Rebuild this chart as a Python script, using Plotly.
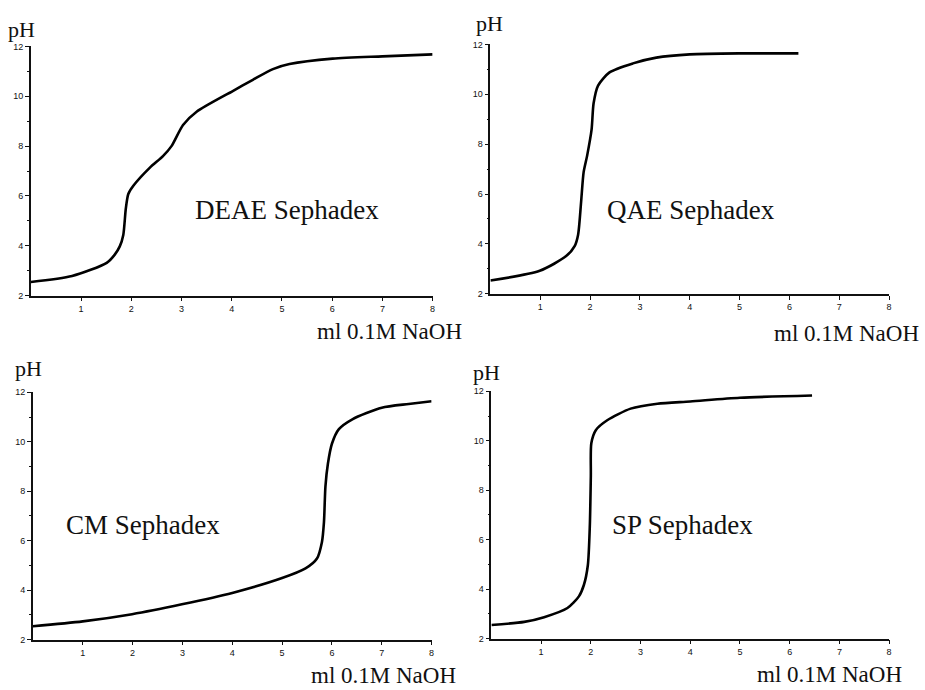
import plotly.graph_objects as go

# ---- data ----
deae_x = [0.0, 0.82, 1.51, 1.67, 1.77, 1.84, 1.89, 1.94, 2.04, 2.37, 2.63, 2.80, 3.03, 3.30, 4.02, 4.42, 4.82, 5.15, 6.01, 7.0, 8.0]
deae_y = [2.55, 2.79, 3.32, 3.65, 3.98, 4.44, 5.49, 6.08, 6.41, 7.14, 7.60, 8.0, 8.85, 9.38, 10.21, 10.66, 11.09, 11.29, 11.51, 11.60, 11.68]

qae_x = [0.0, 0.99, 1.52, 1.69, 1.76, 1.82, 1.87, 1.94, 2.03, 2.07, 2.16, 2.39, 2.86, 3.33, 4.0, 5.0, 6.18]
qae_y = [2.53, 2.92, 3.51, 3.91, 4.37, 5.68, 6.87, 7.53, 8.58, 9.63, 10.35, 10.88, 11.24, 11.47, 11.60, 11.64, 11.64]

cm_x = [0.0, 1.0, 1.99, 2.99, 4.0, 5.0, 5.47, 5.70, 5.80, 5.84, 5.87, 5.92, 6.0, 6.14, 6.41, 7.0, 7.54, 8.0]
cm_y = [2.54, 2.74, 3.03, 3.43, 3.89, 4.49, 4.88, 5.28, 5.95, 6.74, 8.2, 9.12, 9.92, 10.51, 10.91, 11.38, 11.53, 11.64]

sp_x = [0.0, 0.66, 1.06, 1.53, 1.76, 1.86, 1.94, 1.98, 2.0, 2.01, 2.10, 2.33, 2.80, 3.34, 4.0, 5.0, 6.45]
sp_y = [2.55, 2.68, 2.87, 3.24, 3.71, 4.17, 4.97, 6.57, 8.57, 9.9, 10.43, 10.83, 11.30, 11.50, 11.59, 11.74, 11.83]

panel_names = ["DEAE Sephadex", "QAE Sephadex", "CM Sephadex", "SP Sephadex"]
x_ticks = [1, 2, 3, 4, 5, 6, 7, 8]
y_ticks = [2, 4, 6, 8, 10, 12]
y_label = "pH"
x_label = "ml 0.1M NaOH"

series = [(deae_x, deae_y), (qae_x, qae_y), (cm_x, cm_y), (sp_x, sp_y)]

W, H = 925, 690
# panel pixel boxes: (left, right, top, bottom)
boxes = [(31, 434, 42, 295), (492, 892, 40, 293), (33, 433, 393, 644), (493, 892, 392, 643)]
name_pos = [(288, 208), (693, 208), (143, 528), (685, 528)]
ph_pos = [(22, 25), (491, 19), (29, 369), (488, 373)]
xl_pos = [(391, 331), (849, 333), (385, 680), (832, 679)]

fig = go.Figure()
layout = dict(
    width=W, height=H,
    margin=dict(l=0, r=0, t=0, b=0),
    paper_bgcolor="white", plot_bgcolor="white",
    showlegend=False,
    annotations=[],
)

serif = "Liberation Serif, Times New Roman, serif"
sans = "Liberation Sans, Arial, sans-serif"

for i, ((xs, ys), box) in enumerate(zip(series, boxes)):
    n = "" if i == 0 else str(i + 1)
    fig.add_trace(go.Scatter(
        x=xs, y=ys, mode="lines",
        line=dict(color="black", width=2.6, shape="spline", smoothing=0.7),
        xaxis="x" + n, yaxis="y" + n, hoverinfo="skip",
    ))
    l, r, t, b = box
    layout["xaxis" + n] = dict(
        domain=[l / W, r / W], range=[0, 8], anchor="y" + n,
        showgrid=False, zeroline=False, showline=True, linecolor="#111", linewidth=1.5,
        ticks="outside", ticklen=4, tickwidth=1.2, tickcolor="#111",
        tickvals=x_ticks, ticktext=[str(v) for v in x_ticks],
        tickfont=dict(family=sans, size=9, color="#111"),
        fixedrange=True,
    )
    layout["yaxis" + n] = dict(
        domain=[1 - b / H, 1 - t / H], range=[2, 12], anchor="x" + n,
        showgrid=False, zeroline=False, showline=True, linecolor="#111", linewidth=1.5,
        ticks="outside", ticklen=4, tickwidth=1.2, tickcolor="#111",
        tickvals=y_ticks, ticktext=[str(v) for v in y_ticks],
        tickfont=dict(family=sans, size=9, color="#111"),
        minor=dict(tickvals=[3, 5, 7, 9, 11], ticklen=2, tickwidth=1.2, tickcolor="#111", ticks="outside"),
        fixedrange=True,
    )
    nx, ny = name_pos[i]
    layout["annotations"].append(dict(
        text=panel_names[i], x=nx / W, y=1 - ny / H, xref="paper", yref="paper",
        xanchor="center", yanchor="middle", showarrow=False,
        font=dict(family=serif, size=27, color="#111"),
    ))
    px_, py_ = ph_pos[i]
    layout["annotations"].append(dict(
        text=y_label, x=px_ / W, y=1 - py_ / H, xref="paper", yref="paper",
        xanchor="center", yanchor="middle", showarrow=False,
        font=dict(family=serif, size=22, color="#111"),
    ))
    lx, ly = xl_pos[i]
    layout["annotations"].append(dict(
        text=x_label, x=lx / W, y=1 - ly / H, xref="paper", yref="paper",
        xanchor="center", yanchor="middle", showarrow=False,
        font=dict(family=serif, size=23, color="#111"),
    ))

fig.update_layout(**layout)
fig.write_html("out.html")
